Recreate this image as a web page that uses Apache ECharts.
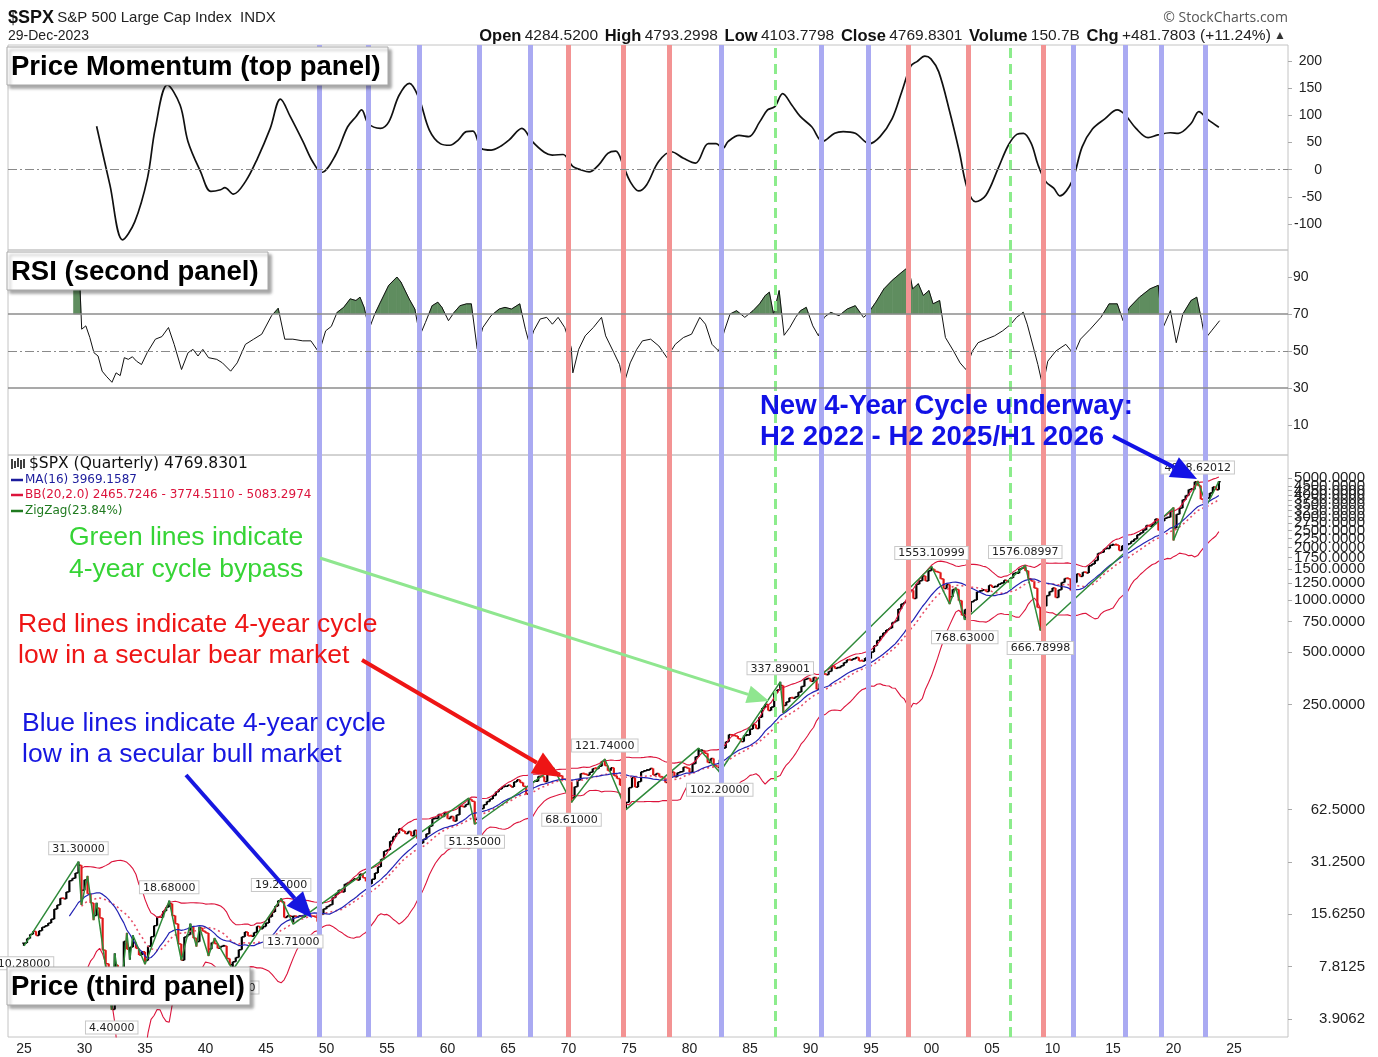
<!DOCTYPE html>
<html>
<head>
<meta charset="utf-8">
<title>$SPX S&amp;P 500 Large Cap Index</title>
<script src="https://cdn.jsdelivr.net/npm/echarts@6/dist/echarts.min.js"></script>
<style>
  html, body { margin: 0; padding: 0; background: #fff; }
  #chart { width: 1378px; height: 1057px; }
</style>
</head>
<body>
<div id="chart"></div>
<script>
// ---------------------------------------------------------------
// Data: S&P 500 quarterly closes, 1925 Q1 .. 2023 Q4 (one row per year)
// ---------------------------------------------------------------
const firstYear = 1925;
const quarterlyClose = [
  10.66, 11.32, 11.97, 12.46,      // 1925
  11.78, 12.55, 13.16, 13.40,      // 1926
  13.89, 14.63, 16.71, 17.66,      // 1927
  19.28, 19.14, 20.97, 24.35,      // 1928
  25.11, 26.94, 29.85, 21.45,      // 1929
  24.63, 20.46, 18.13, 15.34,      // 1930
  16.93, 14.87, 9.71, 8.12,        // 1931
  7.31, 4.43, 7.99, 6.89,          // 1932
  5.85, 10.91, 9.83, 10.10,        // 1933
  10.74, 9.94, 9.10, 9.50,         // 1934
  8.47, 10.23, 11.61, 13.43,       // 1935
  15.03, 14.99, 16.28, 17.18,      // 1936
  17.98, 15.34, 13.76, 10.55,      // 1937
  8.50, 11.56, 11.91, 13.21,       // 1938
  11.39, 10.86, 13.02, 12.49,      // 1939
  12.19, 9.85, 10.73, 10.58,       // 1940
  9.95, 10.21, 10.27, 8.69,        // 1941
  8.02, 8.33, 8.81, 9.77,          // 1942
  11.58, 12.35, 11.73, 11.67,      // 1943
  12.26, 13.30, 12.90, 13.28,      // 1944
  13.91, 15.09, 16.08, 17.36,      // 1945
  18.70, 18.43, 14.96, 15.30,      // 1946
  15.17, 15.23, 15.06, 15.30,      // 1947
  15.08, 16.74, 15.49, 15.20,      // 1948
  15.06, 14.16, 15.58, 16.76,      // 1949
  17.29, 17.69, 19.45, 20.41,      // 1950
  21.48, 20.96, 23.26, 23.77,      // 1951
  24.37, 24.96, 24.54, 26.57,      // 1952
  25.29, 24.14, 23.35, 24.81,      // 1953
  26.94, 29.21, 32.31, 35.98,      // 1954
  36.58, 41.03, 43.67, 45.48,      // 1955
  48.48, 46.97, 45.35, 46.67,      // 1956
  44.11, 47.37, 42.42, 39.99,      // 1957
  42.10, 45.24, 50.06, 55.21,      // 1958
  55.44, 58.47, 56.88, 59.89,      // 1959
  55.34, 56.92, 53.52, 58.11,      // 1960
  65.06, 64.64, 66.73, 71.55,      // 1961
  69.55, 54.75, 56.27, 63.10,      // 1962
  66.57, 69.37, 71.70, 75.02,      // 1963
  78.98, 81.69, 84.18, 84.75,      // 1964
  86.16, 84.12, 89.96, 92.43,      // 1965
  89.23, 84.74, 76.56, 80.33,      // 1966
  90.20, 90.64, 96.71, 96.47,      // 1967
  90.20, 99.58, 102.86, 103.86,    // 1968
  101.51, 97.71, 93.12, 92.06,     // 1969
  89.63, 72.72, 84.30, 92.15,      // 1970
  100.31, 99.70, 98.34, 102.09,    // 1971
  107.20, 107.14, 110.55, 118.05,  // 1972
  111.52, 104.26, 108.43, 97.55,   // 1973
  93.98, 86.00, 63.54, 68.56,      // 1974
  83.36, 95.19, 83.87, 90.19,      // 1975
  102.77, 104.28, 105.24, 107.46,  // 1976
  98.42, 100.48, 96.53, 95.10,     // 1977
  89.21, 95.53, 102.54, 96.11,     // 1978
  101.59, 102.91, 109.32, 107.94,  // 1979
  102.09, 114.24, 125.46, 135.76,  // 1980
  136.00, 131.21, 116.18, 122.55,  // 1981
  111.96, 109.61, 120.42, 140.64,  // 1982
  152.96, 168.11, 166.07, 164.93,  // 1983
  159.18, 153.18, 166.10, 167.24,  // 1984
  180.66, 191.85, 182.08, 211.28,  // 1985
  238.90, 250.84, 231.32, 242.17,  // 1986
  291.70, 304.00, 321.83, 247.08,  // 1987
  258.89, 273.50, 271.91, 277.72,  // 1988
  294.87, 317.98, 349.15, 353.40,  // 1989
  339.94, 358.02, 306.05, 330.22,  // 1990
  375.22, 371.16, 387.86, 417.09,  // 1991
  403.69, 408.14, 417.80, 435.71,  // 1992
  451.67, 450.53, 458.93, 466.45,  // 1993
  445.77, 444.27, 462.69, 459.27,  // 1994
  500.71, 544.75, 584.41, 615.93,  // 1995
  645.50, 670.63, 687.33, 740.74,  // 1996
  757.12, 885.14, 947.28, 970.43,  // 1997
  1101.75, 1133.84, 1017.01, 1229.23, // 1998
  1286.37, 1372.71, 1282.71, 1469.25, // 1999
  1498.58, 1454.60, 1436.51, 1320.28, // 2000
  1160.33, 1224.42, 1040.94, 1148.08, // 2001
  1147.39, 989.82, 815.28, 879.82,    // 2002
  848.18, 974.50, 995.97, 1111.92,    // 2003
  1126.21, 1140.84, 1114.58, 1211.92, // 2004
  1180.59, 1191.33, 1228.81, 1248.29, // 2005
  1294.83, 1270.20, 1335.85, 1418.30, // 2006
  1420.86, 1503.35, 1526.75, 1468.36, // 2007
  1322.70, 1280.00, 1166.36, 903.25,  // 2008
  797.87, 919.32, 1057.08, 1115.10,   // 2009
  1169.43, 1030.71, 1141.20, 1257.64, // 2010
  1325.83, 1320.64, 1131.42, 1257.60, // 2011
  1408.47, 1362.16, 1440.67, 1426.19, // 2012
  1569.19, 1606.28, 1681.55, 1848.36, // 2013
  1872.34, 1960.23, 1972.29, 2058.90, // 2014
  2067.89, 2063.11, 1920.03, 2043.94, // 2015
  2059.74, 2098.86, 2168.27, 2238.83, // 2016
  2362.72, 2423.41, 2519.36, 2673.61, // 2017
  2640.87, 2718.37, 2913.98, 2506.85, // 2018
  2834.40, 2941.76, 2976.74, 3230.78, // 2019
  2584.59, 3100.29, 3363.00, 3756.07, // 2020
  3972.89, 4297.50, 4307.54, 4766.18, // 2021
  4530.41, 3785.38, 3585.62, 3839.50, // 2022
  4109.31, 4450.38, 4288.05, 4769.83  // 2023
];

// ZigZag(23.84%) turning points: quarter start (decimal year) and price
const zigzagYears = [
  1925.0, 1929.5, 1929.75, 1930.25, 1930.75, 1931.0, 1932.25, 1932.5, 1933.0, 1933.5,
  1933.75, 1934.0, 1935.0, 1937.0, 1938.0, 1938.75, 1939.25, 1939.5, 1940.25, 1940.75,
  1942.25, 1946.25, 1947.25, 1961.75, 1962.25, 1968.75, 1970.25, 1973.0, 1974.75, 1980.75,
  1982.5, 1987.5, 1987.75, 2000.0, 2001.5, 2002.0, 2002.75, 2007.75, 2009.0, 2020.0,
  2020.0, 2022.0, 2022.75, 2023.75
];
const zigzagValues = [
  10.28, 31.30, 17.66, 25.92, 14.44, 18.17, 4.40, 9.31, 5.53, 12.20,
  8.57, 11.82, 8.06, 18.68, 8.50, 13.79, 10.18, 13.23, 8.99, 11.40,
  7.47, 19.25, 13.71, 72.64, 51.35, 108.37, 68.61, 121.74, 62.28, 140.52,
  102.20, 337.89001, 223.92, 1553.10999, 944.75, 1176.97, 768.63, 1576.08997, 666.78998, 3393.52,
  2191.86, 4818.62012, 3491.58, 4793.30
];
// where each turning point carries a value tag ('' = no tag)
const zigzagTagSide = [
  'bottom', 'top', '', '', '', '', 'bottom', '', '', '',
  '', '', '', 'top', '', '', '', '', '', '',
  'bottom', 'top', 'bottom', '', 'bottom', '', 'bottom', 'top', '', '',
  'bottom', 'top', '', 'top', '', '', 'bottom', 'top', 'bottom', '',
  '', 'top', '', ''
];

// Price momentum oscillator (top panel)
const momentumYears = [
  1931.0, 1932.1, 1933.15, 1934.15, 1935.2, 1935.85, 1936.85, 1937.9, 1938.55, 1939.6,
  1940.45, 1941.25, 1941.6, 1942.3, 1943.3, 1944.3, 1945.35, 1946.2, 1947.0, 1948.05,
  1948.85, 1949.6, 1950.75, 1951.75, 1952.45, 1952.9, 1953.45, 1954.45, 1955.15, 1956.0,
  1956.85, 1957.65, 1958.5, 1959.4, 1960.2, 1960.9, 1961.55, 1962.1, 1962.8, 1963.6,
  1964.3, 1965.1, 1966.15, 1967.0, 1968.0, 1968.65, 1969.55, 1970.35, 1971.0, 1971.7,
  1972.5, 1973.25, 1973.9, 1974.55, 1975.1, 1975.8, 1976.45, 1977.45, 1978.5, 1979.5,
  1980.5, 1981.55, 1982.2, 1982.75, 1983.2, 1984.1, 1984.9, 1985.8, 1986.45, 1987.05,
  1987.7, 1988.45, 1989.15, 1990.1, 1991.0, 1992.0, 1992.7, 1993.7, 1994.85, 1995.75,
  1996.75, 1997.55, 1998.3, 1998.8, 1999.45, 1999.95, 2000.6, 2001.5, 2002.3, 2002.95,
  2003.65, 2004.5, 2005.5, 2006.35, 2007.05, 2007.6, 2008.25, 2008.8, 2009.45, 2010.1,
  2010.6, 2011.6, 2012.45, 2013.3, 2014.35, 2015.35, 2016.0, 2016.9, 2017.9, 2018.7,
  2019.75, 2020.4, 2021.45, 2022.1, 2022.8, 2023.75
];
const momentumValues = [
  80, -28, -129, -96, -16, 76, 156, 119, 52, -4,
  -40, -37, -33, -45, -22, 21, 76, 130, 98, 52,
  15, -5, 27, 79, 98, 110, 85, 76, 88, 137,
  159, 131, 73, 48, 45, 55, 70, 71, 39, 36,
  42, 55, 76, 52, 32, 27, 28, 6, 0, -4,
  9, 30, 34, 6, -22, -39, -28, 15, 33, 21,
  12, 48, 48, 39, 52, 63, 61, 88, 110, 116,
  140, 119, 98, 79, 52, 67, 70, 67, 48, 61,
  94, 144, 191, 199, 209, 204, 180, 107, 33, -34,
  -59, -47, 2, 45, 65, 67, 48, 9, -22, -34,
  -48, -22, 42, 75, 94, 110, 101, 76, 59, 64,
  68, 67, 85, 107, 93, 78
];

// RSI (second panel)
const rsiYears = [
  1929.09, 1929.63, 1929.77, 1930.11, 1930.44, 1930.78, 1931.12, 1931.46, 1931.80, 1932.27,
  1932.61, 1932.95, 1933.29, 1933.62, 1933.96, 1934.30, 1934.71, 1935.18, 1935.86, 1936.40,
  1936.94, 1937.41, 1938.02, 1938.56, 1938.97, 1939.38, 1939.78, 1940.25, 1940.93, 1941.40,
  1942.08, 1942.62, 1943.30, 1943.98, 1944.65, 1945.46, 1946.01, 1946.55, 1947.22, 1948.04,
  1948.71, 1949.39, 1949.93, 1950.40, 1950.88, 1951.42, 1951.96, 1952.43, 1952.77, 1953.11,
  1953.52, 1953.99, 1954.46, 1955.14, 1955.82, 1956.15, 1956.83, 1957.30, 1957.71, 1958.18,
  1958.73, 1959.20, 1959.54, 1960.08, 1960.55, 1961.03, 1961.57, 1961.97, 1962.45, 1962.92,
  1963.60, 1964.27, 1964.75, 1965.29, 1965.97, 1966.44, 1966.78, 1967.12, 1967.66, 1968.20,
  1968.67, 1969.14, 1969.69, 1970.23, 1970.36, 1970.84, 1971.38, 1972.05, 1972.73, 1973.07,
  1973.75, 1974.22, 1974.56, 1975.10, 1975.64, 1976.11, 1976.79, 1977.47, 1978.14, 1978.82,
  1979.50, 1980.17, 1980.85, 1981.32, 1981.86, 1982.41, 1982.88, 1983.35, 1983.89, 1984.57,
  1985.25, 1985.79, 1986.26, 1986.60, 1986.94, 1987.41, 1987.82, 1988.29, 1988.77, 1989.17,
  1989.65, 1990.19, 1990.66, 1991.13, 1991.68, 1992.35, 1993.03, 1993.70, 1994.38, 1994.72,
  1995.40, 1996.07, 1996.75, 1997.56, 1998.10, 1998.44, 1998.91, 1999.32, 1999.79, 2000.13,
  2000.67, 2001.15, 2001.82, 2002.36, 2002.84, 2003.38, 2003.85, 2004.53, 2005.21, 2005.88,
  2006.56, 2007.03, 2007.58, 2007.91, 2008.39, 2008.79, 2009.20, 2009.61, 2010.28, 2011.10,
  2011.77, 2012.31, 2013.12, 2014.00, 2014.68, 2015.35, 2015.83, 2016.37, 2017.18, 2018.06,
  2018.74, 2019.08, 2019.75, 2020.23, 2020.77, 2021.45, 2021.92, 2022.33, 2022.60, 2023.14,
  2023.81
];
const rsiValues = [
  83.6, 83.6, 61.8, 63.6, 57.3, 49.1, 47.3, 39.1, 36.4, 33.1,
  38.2, 36.7, 46.4, 45.5, 46.9, 44.5, 42.7, 49.1, 56.4, 57.8,
  62.7, 53.6, 40.0, 49.1, 50.9, 47.3, 50.9, 46.4, 45.5, 43.6,
  39.1, 43.6, 53.6, 56.4, 59.1, 69.1, 73.1, 56.4, 56.4, 55.5,
  55.5, 49.1, 60.9, 63.3, 70.9, 73.6, 78.2, 77.3, 79.1, 73.6,
  61.8, 70.0, 76.4, 85.5, 90.0, 87.3, 78.2, 72.7, 58.2, 65.5,
  74.5, 76.4, 73.6, 66.4, 70.9, 74.5, 75.5, 75.5, 51.3, 62.7,
  69.1, 72.7, 73.6, 72.7, 75.5, 61.8, 53.6, 60.9, 67.3, 68.2,
  64.5, 68.2, 62.7, 51.8, 38.2, 50.9, 58.2, 62.7, 68.2, 58.2,
  49.1, 42.7, 31.8, 43.6, 50.9, 55.5, 56.4, 52.7, 46.4, 53.6,
  57.3, 59.1, 68.2, 64.5, 53.6, 50.0, 60.9, 70.0, 71.8, 68.2,
  71.8, 75.5, 80.0, 81.8, 70.0, 82.7, 58.5, 62.7, 68.2, 71.8,
  73.6, 63.6, 58.2, 68.2, 70.9, 69.1, 72.7, 74.5, 68.2, 70.0,
  76.4, 83.6, 88.2, 92.7, 95.5, 83.6, 86.4, 80.0, 82.7, 75.5,
  77.3, 57.3, 50.0, 43.6, 40.0, 50.0, 54.5, 56.4, 58.2, 60.9,
  64.5, 68.2, 70.9, 64.5, 52.7, 42.7, 30.9, 44.5, 50.0, 53.6,
  48.2, 56.4, 61.8, 68.2, 75.5, 75.5, 66.4, 73.6, 79.1, 83.6,
  85.5, 61.8, 71.8, 54.5, 70.0, 77.3, 79.1, 66.4, 56.4, 60.9,
  66.4
];
const rsiOverbought = 70;

// Four-year cycle markers
const cycleLineYears = [
  1949.4, 1953.45, 1957.65, 1962.6, 1966.8, 1970.0, 1974.55, 1978.3, 1982.65, 1987.05,
  1990.85, 1994.8, 1998.1, 2003.0, 2006.5, 2009.2, 2011.75, 2016.0, 2018.95, 2022.65
];
const cycleLineKinds = [
  'bull', 'bull', 'bull', 'bull', 'bull', 'bear', 'bear', 'bear', 'bull', 'bypass',
  'bull', 'bull', 'bear', 'bear', 'bypass', 'bear', 'bull', 'bull', 'bull', 'bull'
];

// Axis ticks
const xTickYears = [1925, 1930, 1935, 1940, 1945, 1950, 1955, 1960, 1965, 1970, 1975,
  1980, 1985, 1990, 1995, 2000, 2005, 2010, 2015, 2020, 2025];
const xTickLabels = ['25', '30', '35', '40', '45', '50', '55', '60', '65', '70', '75',
  '80', '85', '90', '95', '00', '05', '10', '15', '20', '25'];
const momentumTicks = [-100, -50, 0, 50, 100, 150, 200];
const rsiTicks = [10, 30, 50, 70, 90];
const priceTickValues = [3.90625, 7.8125, 15.625, 31.25, 62.5, 250, 500, 750, 1000, 1250,
  1500, 1750, 2000, 2250, 2500, 2750, 3000, 3250, 3500, 3750, 4000, 4250, 4500, 4750, 5000];
const priceTickLabels = ['3.9062', '7.8125', '15.6250', '31.2500', '62.5000', '250.0000',
  '500.0000', '750.0000', '1000.0000', '1250.0000', '1500.0000', '1750.0000', '2000.0000',
  '2250.0000', '2500.0000', '2750.0000', '3000.0000', '3250.0000', '3500.0000', '3750.0000',
  '4000.0000', '4250.0000', '4500.0000', '4750.0000', '5000.0000'];

// ---------------------------------------------------------------
// Derived series
// ---------------------------------------------------------------
const quarterYear = i => firstYear + i * 0.25;

// OHLC-style bars: open = previous close, range widened at zigzag turning points
const bars = quarterlyClose.map((c, i) => {
  const o = i === 0 ? c : quarterlyClose[i - 1];
  return [quarterYear(i), o, c, Math.min(o, c), Math.max(o, c)];
});
zigzagYears.forEach((yr, k) => {
  const i = Math.round((yr - firstYear) * 4);
  if (i >= 0 && i < bars.length) {
    bars[i][3] = Math.min(bars[i][3], zigzagValues[k]);
    bars[i][4] = Math.max(bars[i][4], zigzagValues[k]);
  }
});

function movingAverage(n) {
  const out = [];
  for (let i = n - 1; i < quarterlyClose.length; i++) {
    let s = 0;
    for (let j = i - n + 1; j <= i; j++) s += quarterlyClose[j];
    out.push([quarterYear(i), s / n]);
  }
  return out;
}
function bollinger(n, k) {
  const up = [], mid = [], lo = [];
  for (let i = n - 1; i < quarterlyClose.length; i++) {
    let s = 0;
    for (let j = i - n + 1; j <= i; j++) s += quarterlyClose[j];
    const m = s / n;
    let v = 0;
    for (let j = i - n + 1; j <= i; j++) v += (quarterlyClose[j] - m) ** 2;
    const sd = Math.sqrt(v / n);
    const x = quarterYear(i);
    up.push([x, m + k * sd]); mid.push([x, m]); lo.push([x, m - k * sd]);
  }
  return { up, mid, lo };
}
const ma16 = movingAverage(16);
const bb = bollinger(20, 2);
const zigzag = zigzagYears.map((y, i) => [y, zigzagValues[i]]);
const momentum = momentumYears.map((y, i) => [y, momentumValues[i]]);
const rsi = rsiYears.map((y, i) => [y, rsiValues[i]]);
// consecutive RSI pairs, used to shade the part of the curve above the overbought level
const rsiSegments = rsi.slice(1).map((p, i) => [rsi[i][0], rsi[i][1], p[0], p[1]]);
const zigzagTags = zigzag
  .map((p, i) => ({
    value: p,
    label: { position: zigzagTagSide[i], distance: zigzagTagSide[i] === 'bottom' ? 11 : 7 }
  }))
  .filter((d, i) => zigzagTagSide[i] !== '');

// ---------------------------------------------------------------
// Layout
// ---------------------------------------------------------------
const PLOT_LEFT = 8, PLOT_W = 1280;
const X_MIN = 1923.678, X_MAX = 2029.463;
const FONT = '"Liberation Sans", Arial, sans-serif';
const VFONT = '"DejaVu Sans", Verdana, sans-serif';

const cycleStyle = {
  bull:   { color: '#aaaaf2', width: 5, type: 'solid' },
  bear:   { color: '#f39393', width: 5, type: 'solid' },
  bypass: { color: '#8cec8c', width: 3, type: [10, 6] }
};
const cycleMarks = cycleLineYears.map((yr, i) => {
  const s = cycleStyle[cycleLineKinds[i]];
  return { xAxis: yr, lineStyle: { color: s.color, width: s.width, type: s.type, opacity: 1 } };
});

function xAxisFor(g) {
  return {
    type: 'value', gridIndex: g, min: X_MIN, max: X_MAX,
    axisLine: { show: false }, axisTick: { show: false }, splitLine: { show: false },
    axisLabel: {
      show: g === 2, customValues: xTickYears, margin: 5,
      fontFamily: FONT, fontSize: 14, color: '#222',
      formatter: v => {
        const i = xTickYears.indexOf(Math.round(v));
        return i >= 0 ? xTickLabels[i] : '';
      }
    }
  };
}

function cycleSeries(g) {
  return {
    type: 'line', xAxisIndex: g, yAxisIndex: g, data: [], silent: true, z: 1,
    markLine: { symbol: 'none', silent: true, animation: false, label: { show: false }, data: cycleMarks }
  };
}

const dashDot = [9, 3, 2, 3];

const option = {
  animation: false,
  backgroundColor: '#ffffff',
  grid: [
    { left: PLOT_LEFT, top: 45, width: PLOT_W, height: 205, show: true, borderColor: '#c4c4c4', borderWidth: 1, outerBoundsMode: 'none' },
    { left: PLOT_LEFT, top: 250, width: PLOT_W, height: 205, show: true, borderColor: '#c4c4c4', borderWidth: 1, outerBoundsMode: 'none' },
    { left: PLOT_LEFT, top: 455, width: PLOT_W, height: 582, show: true, borderColor: '#c4c4c4', borderWidth: 1, outerBoundsMode: 'none' }
  ],
  xAxis: [xAxisFor(0), xAxisFor(1), xAxisFor(2)],
  yAxis: [
    {
      type: 'value', gridIndex: 0, position: 'right', min: -147.8, max: 229.5,
      axisLine: { show: false }, splitLine: { show: false },
      axisTick: { show: true, customValues: momentumTicks, length: 4, lineStyle: { color: '#aaa' } },
      axisLabel: { customValues: momentumTicks, align: 'right', margin: 34, hideOverlap: false,
                   fontFamily: FONT, fontSize: 14, color: '#222' }
    },
    {
      type: 'value', gridIndex: 1, position: 'right', min: -6.2, max: 104.6,
      axisLine: { show: false }, splitLine: { show: false },
      axisTick: { show: true, customValues: rsiTicks, length: 4, lineStyle: { color: '#aaa' } },
      axisLabel: { customValues: rsiTicks, align: 'left', margin: 5, hideOverlap: false,
                   fontFamily: FONT, fontSize: 14, color: '#222' }
    },
    {
      type: 'log', logBase: 2, gridIndex: 2, position: 'right', min: 3.078, max: 6790,
      axisLine: { show: false }, splitLine: { show: false },
      axisTick: { show: true, customValues: priceTickValues, length: 4, lineStyle: { color: '#aaa' } },
      axisLabel: {
        customValues: priceTickValues, align: 'right', margin: 77, hideOverlap: false,
        showMinLabel: true, showMaxLabel: true,
        fontFamily: FONT, fontSize: 15, color: '#222',
        formatter: v => {
          let best = 0, bd = Infinity;
          priceTickValues.forEach((t, i) => {
            const d = Math.abs(Math.log(t) - Math.log(v));
            if (d < bd) { bd = d; best = i; }
          });
          return priceTickLabels[best];
        }
      }
    }
  ],
  series: [
    cycleSeries(0),
    cycleSeries(1),
    cycleSeries(2),
    {
      name: 'Momentum', type: 'line', xAxisIndex: 0, yAxisIndex: 0, data: momentum,
      smooth: 0.35, showSymbol: false, z: 3,
      lineStyle: { color: '#111', width: 1.7 },
      markLine: {
        symbol: 'none', silent: true, label: { show: false },
        lineStyle: { color: '#8a8a8a', width: 1.2, type: dashDot },
        data: [{ yAxis: 0 }]
      }
    },
    {
      name: 'RSI overbought', type: 'custom', xAxisIndex: 1, yAxisIndex: 1, data: rsiSegments,
      clip: true, silent: true, z: 2,
      encode: { x: [0, 2], y: [1, 3] },
      renderItem: (params, api) => {
        const x0 = api.value(0), v0 = api.value(1), x1 = api.value(2), v1 = api.value(3);
        if (v0 <= rsiOverbought && v1 <= rsiOverbought) return null;
        const p0 = api.coord([x0, v0]), p1 = api.coord([x1, v1]);
        const yb = api.coord([x0, rsiOverbought])[1];
        let pts;
        if (v0 > rsiOverbought && v1 > rsiOverbought) {
          pts = [p0, p1, [p1[0], yb], [p0[0], yb]];
        } else if (v0 > rsiOverbought) {
          const t = (v0 - rsiOverbought) / (v0 - v1);
          pts = [p0, [p0[0] + t * (p1[0] - p0[0]), yb], [p0[0], yb]];
        } else {
          const t = (rsiOverbought - v0) / (v1 - v0);
          pts = [[p0[0] + t * (p1[0] - p0[0]), yb], p1, [p1[0], yb]];
        }
        return { type: 'polygon', shape: { points: pts }, style: { fill: '#5f8d5f', stroke: '#5f8d5f', lineWidth: 0.6 } };
      }
    },
    {
      name: 'RSI', type: 'line', xAxisIndex: 1, yAxisIndex: 1, data: rsi,
      showSymbol: false, z: 3, lineStyle: { color: '#111', width: 1 },
      markLine: {
        symbol: 'none', silent: true, label: { show: false },
        data: [
          { yAxis: 70, lineStyle: { color: '#8c8c8c', width: 1.5, type: 'solid' } },
          { yAxis: 30, lineStyle: { color: '#8c8c8c', width: 1.5, type: 'solid' } },
          { yAxis: 50, lineStyle: { color: '#8a8a8a', width: 1.2, type: dashDot } }
        ]
      }
    },
    {
      name: 'SPX', type: 'custom', xAxisIndex: 2, yAxisIndex: 2, data: bars, clip: true, z: 2,
      encode: { x: 0, y: [1, 2, 3, 4] },
      renderItem: (params, api) => {
        const x = api.value(0), o = api.value(1), c = api.value(2), lo = api.value(3), hi = api.value(4);
        const pHi = api.coord([x, hi]), pLo = api.coord([x, lo]);
        const pO = api.coord([x, o]), pC = api.coord([x, c]);
        const color = c >= o ? '#000000' : '#e01818';
        const top = Math.min(pHi[1], pLo[1] - 1.5);
        return {
          type: 'group',
          children: [
            { type: 'line', shape: { x1: pHi[0], y1: top, x2: pLo[0], y2: pLo[1] }, style: { stroke: color, lineWidth: 2.2 } },
            { type: 'line', shape: { x1: pO[0] - 1.8, y1: pO[1], x2: pO[0], y2: pO[1] }, style: { stroke: color, lineWidth: 1.4 } },
            { type: 'line', shape: { x1: pC[0], y1: pC[1], x2: pC[0] + 1.8, y2: pC[1] }, style: { stroke: color, lineWidth: 1.4 } }
          ]
        };
      }
    },
    {
      name: 'BB upper', type: 'line', xAxisIndex: 2, yAxisIndex: 2, data: bb.up,
      showSymbol: false, z: 3, lineStyle: { color: '#dc143c', width: 1.1 }
    },
    {
      name: 'BB lower', type: 'line', xAxisIndex: 2, yAxisIndex: 2, data: bb.lo,
      showSymbol: false, z: 3, lineStyle: { color: '#dc143c', width: 1.1 }
    },
    {
      name: 'BB middle', type: 'line', xAxisIndex: 2, yAxisIndex: 2, data: bb.mid,
      showSymbol: false, z: 3, lineStyle: { color: '#e8506a', width: 1.6, type: [2, 3] }
    },
    {
      name: 'MA(16)', type: 'line', xAxisIndex: 2, yAxisIndex: 2, data: ma16,
      showSymbol: false, z: 3, lineStyle: { color: '#2323b4', width: 1.2 }
    },
    {
      name: 'ZigZag', type: 'line', xAxisIndex: 2, yAxisIndex: 2, data: zigzag,
      showSymbol: false, z: 4, lineStyle: { color: '#2f8a3a', width: 1.5 }
    },
    {
      name: 'ZigZag tags', type: 'scatter', xAxisIndex: 2, yAxisIndex: 2, z: 6, silent: true,
      symbol: 'circle', symbolSize: 1, itemStyle: { color: 'rgba(0,0,0,0)' },
      data: zigzagTags,
      labelLayout: { hideOverlap: false },
      label: {
        show: true, distance: 7, opacity: 1,
        formatter: p => p.value[1].toFixed(5),
        fontFamily: VFONT, fontSize: 11, color: '#222',
        backgroundColor: '#ffffff', borderColor: '#c8c8c8', borderWidth: 1, padding: [1, 3, 0, 3]
      }
    }
  ]
};

// ---------------------------------------------------------------
// Header, panel titles, legend and annotations
// ---------------------------------------------------------------
function arrow(x1, y1, x2, y2, color, width, headLen, headHalf) {
  const a = Math.atan2(y2 - y1, x2 - x1);
  const bx = x2 - headLen * Math.cos(a), by = y2 - headLen * Math.sin(a);
  const px = -Math.sin(a), py = Math.cos(a);
  return [
    { type: 'line', z: 90, silent: true, shape: { x1, y1, x2: bx, y2: by }, style: { stroke: color, lineWidth: width } },
    { type: 'polygon', z: 90, silent: true,
      shape: { points: [[x2, y2], [bx + px * headHalf, by + py * headHalf], [bx - px * headHalf, by - py * headHalf]] },
      style: { fill: color } }
  ];
}
function titleBox(x, y, w, h, text) {
  return [
    { type: 'rect', z: 95, silent: true, shape: { x, y, width: w, height: h },
      style: { fill: '#ffffff', stroke: '#a8a8a8', lineWidth: 1,
               shadowBlur: 3, shadowOffsetX: 3, shadowOffsetY: 3, shadowColor: 'rgba(0,0,0,0.35)' } },
    { type: 'text', z: 96, silent: true,
      style: { x: x + 4, y: y + h / 2 + 1, text, font: 'bold 27.5px ' + FONT, fill: '#000', verticalAlign: 'middle' } }
  ];
}
function textAt(x, y, text, font, fill, align) {
  return { type: 'text', z: 92, silent: true,
    style: { x, y, text, font, fill, align: align || 'left', verticalAlign: 'middle' } };
}
function legendRow(y, color, text) {
  return [
    { type: 'line', z: 92, silent: true, shape: { x1: 11, y1: y, x2: 23, y2: y }, style: { stroke: color, lineWidth: 2.5 } },
    textAt(25, y, text, '12px ' + VFONT, color)
  ];
}

const graphics = [
  // header
  { type: 'text', z: 92, silent: true,
    style: { x: 8, y: 18, verticalAlign: 'middle',
      text: '{t|$SPX} {n|S&P 500 Large Cap Index  INDX}',
      rich: { t: { font: 'bold 18px ' + FONT, fill: '#111' }, n: { font: '15px ' + FONT, fill: '#222' } } } },
  textAt(8, 36, '29-Dec-2023', '14px ' + FONT, '#222'),
  textAt(1288, 18, '\u00a9 StockCharts.com', '14px "Open Sans", ' + FONT, '#555', 'right'),
  { type: 'text', z: 92, silent: true,
    style: { x: 1286, y: 36, align: 'right', verticalAlign: 'middle',
      text: '{b|Open} {v|4284.5200}  {b|High} {v|4793.2998}  {b|Low} {v|4103.7798}  {b|Close} {v|4769.8301}  {b|Volume} {v|150.7B}  {b|Chg} {v|+481.7803 (+11.24%)} {g|\u25B2}',
      rich: {
        b: { font: 'bold 16.5px ' + FONT, fill: '#111' },
        v: { font: '15.5px ' + FONT, fill: '#222' },
        g: { font: '12px ' + FONT, fill: '#333' }
      } } },

  // price panel legend
  { type: 'group', z: 92, silent: true, children: [
    { type: 'line', shape: { x1: 12, y1: 459, x2: 12, y2: 469 }, style: { stroke: '#000', lineWidth: 1.5 } },
    { type: 'line', shape: { x1: 15, y1: 461, x2: 15, y2: 468 }, style: { stroke: '#000', lineWidth: 1.5 } },
    { type: 'line', shape: { x1: 18, y1: 458, x2: 18, y2: 467 }, style: { stroke: '#000', lineWidth: 1.5 } },
    { type: 'line', shape: { x1: 21, y1: 460, x2: 21, y2: 469 }, style: { stroke: '#000', lineWidth: 1.5 } },
    { type: 'line', shape: { x1: 24, y1: 459, x2: 24, y2: 468 }, style: { stroke: '#000', lineWidth: 1.5 } }
  ] },
  textAt(29, 464, '$SPX (Quarterly) 4769.8301', '15.5px ' + VFONT, '#111'),
  ...legendRow(480, '#1c1c9c', 'MA(16) 3969.1587'),
  ...legendRow(495, '#dc143c', 'BB(20,2.0) 2465.7246 - 3774.5110 - 5083.2974'),
  ...legendRow(511, '#1f7a1f', 'ZigZag(23.84%)'),

  // panel titles
  ...titleBox(7, 47, 381, 38, 'Price Momentum (top panel)'),
  ...titleBox(7, 252, 261, 38, 'RSI (second panel)'),
  ...titleBox(7, 967, 243, 38, 'Price (third panel)'),

  // annotations
  textAt(760, 406, 'New 4-Year Cycle underway:', 'bold 27.5px ' + FONT, '#1212e6'),
  textAt(760, 437, 'H2 2022 - H2 2025/H1 2026', 'bold 27.5px ' + FONT, '#1212e6'),
  ...arrow(1113, 436, 1197, 479, '#1212e6', 4, 26, 11),

  textAt(69, 538, 'Green lines indicate', '26.5px ' + FONT, '#36d436'),
  textAt(69, 570, '4-year cycle bypass', '26.5px ' + FONT, '#36d436'),
  ...arrow(320, 558, 769, 701, '#8fe68f', 3, 22, 9),

  textAt(18, 625, 'Red lines indicate 4-year cycle', '26.5px ' + FONT, '#ee1515'),
  textAt(18, 656, 'low in a secular bear market', '26.5px ' + FONT, '#ee1515'),
  ...arrow(362, 660, 561, 777, '#ee1515', 4, 28, 12),

  textAt(22, 724, 'Blue lines indicate 4-year cycle', '26.5px ' + FONT, '#1717e0'),
  textAt(22, 755, 'low in a secular bull market', '26.5px ' + FONT, '#1717e0'),
  ...arrow(186, 775, 312, 918, '#1717e0', 4, 26, 11)
];
option.graphic = { elements: graphics };

const chart = echarts.init(document.getElementById('chart'), null, { renderer: 'canvas' });
chart.setOption(option);
</script>
</body>
</html>
